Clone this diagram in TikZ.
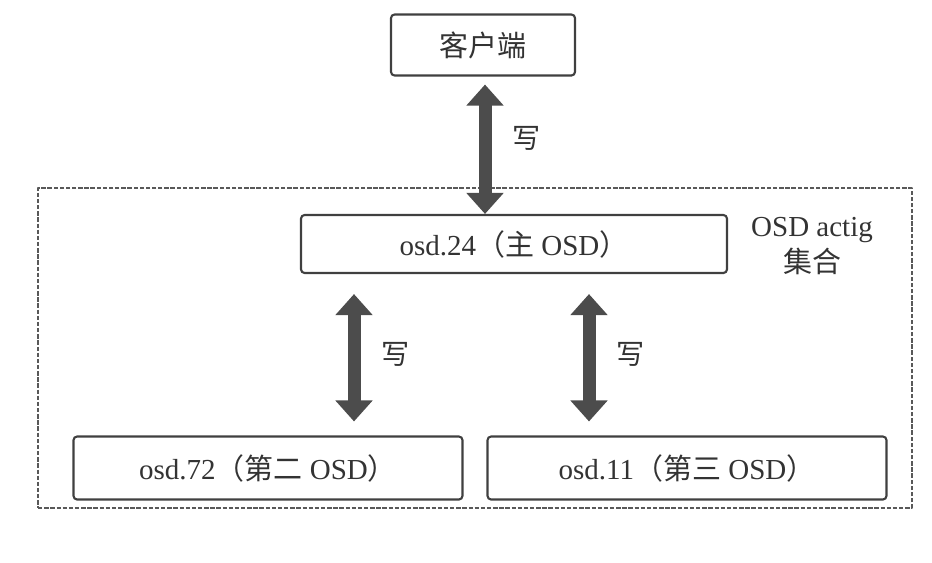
\documentclass[tikz,border=0pt]{standalone}
\usepackage{fontspec}
\setmainfont{Liberation Serif}
\newfontfamily\cjk{Noto Sans CJK SC}
\usetikzlibrary{arrows.meta}
\begin{document}
\begin{tikzpicture}[x=0.02cm, y=-0.02cm, line join=round,
	font=\fontsize{16.5}{20}\selectfont, text=black!80,
	box/.style={draw=black!75, line width=1.2pt, rounded corners=2pt, inner sep=0pt, fill=white},
	frame/.style={draw=black!65, line width=1.1pt, dash pattern=on 2.5pt off 1pt, minimum width=17.48cm, minimum height=6.4cm},
	biarrow/.style={{Triangle[width=0.72cm, length=0.42cm]}-{Triangle[width=0.72cm, length=0.42cm]}, line width=0.26cm, draw=black!70},
	lbl/.style={font=\cjk\fontsize{16}{20}\selectfont}]
	\useasboundingbox (0,0) rectangle (932,562);
	\node[frame] (actset) at (475,348) {};
	\node[box, minimum width=3.68cm, minimum height=1.22cm] (client) at (483,45) {\cjk 客户端};
	\node[box, minimum width=8.52cm, minimum height=1.16cm] (osd24) at (514,244) {osd.24{\cjk（主} OSD{\cjk）}};
	\node[box, minimum width=7.78cm, minimum height=1.26cm] (osd72) at (268,468) {osd.72{\cjk（第二} OSD{\cjk）}};
	\node[box, minimum width=7.98cm, minimum height=1.26cm] (osd11) at (687,468) {osd.11{\cjk（第三} OSD{\cjk）}};
	\node[align=center, font=\fontsize{16.5}{20}\selectfont] (setname) at (812,246) {OSD actig\\{\cjk 集合}};
	
	\coordinate (a1) at (485,0);
	\coordinate (a2) at (354,0);
	\coordinate (a3) at (589,0);
	\draw[biarrow, shorten <=0.16cm] (client.south -| a1) -- node[right=0.3cm, pos=0.45, lbl] {写} (osd24.north -| a1);
	\foreach \a/\b in {a2/osd72, a3/osd11}{
		\draw[biarrow, shorten <=0.4cm, shorten >=0.28cm] (osd24.south -| \a) -- node[right=0.3cm, lbl] {写} (\b.north -| \a);
	}
\end{tikzpicture}
\end{document}
